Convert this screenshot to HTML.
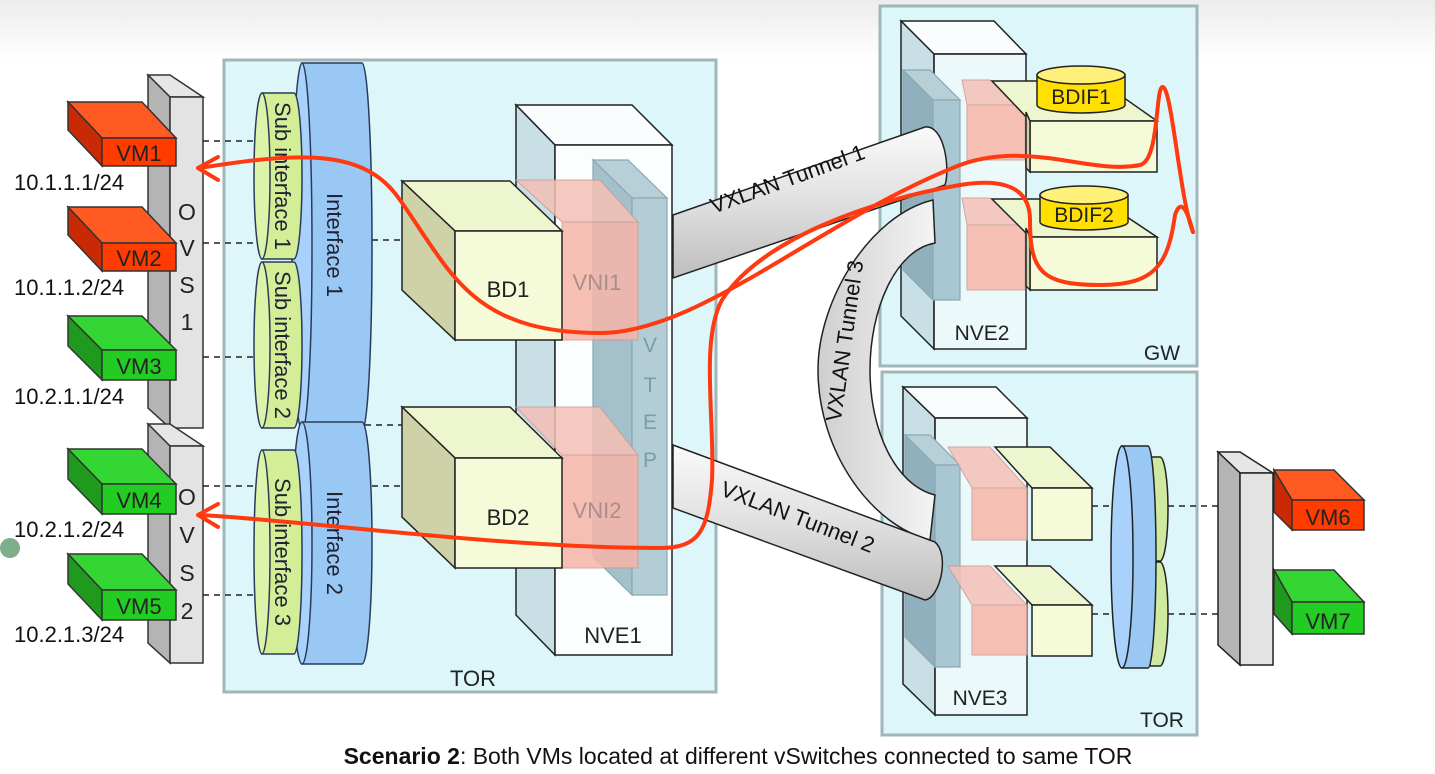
<!DOCTYPE html>
<html><head><meta charset="utf-8"><style>
html,body{margin:0;padding:0;background:#fff;}
svg{display:block;font-family:"Liberation Sans",sans-serif;}
</style></head><body>
<svg width="1435" height="774" viewBox="0 0 1435 774" xmlns="http://www.w3.org/2000/svg">
<defs>
<linearGradient id="top" x1="0" y1="0" x2="0" y2="1"><stop offset="0" stop-color="#ececec"/><stop offset="1" stop-color="#fff"/></linearGradient>
<linearGradient id="tube" x1="0" y1="0" x2="0" y2="1"><stop offset="0" stop-color="#fafafa"/><stop offset="0.5" stop-color="#e0e0e0"/><stop offset="1" stop-color="#bdbdbd"/></linearGradient>
<linearGradient id="tube3" x1="0" y1="0" x2="1" y2="0"><stop offset="0" stop-color="#cfcfcf"/><stop offset="1" stop-color="#f4f4f4"/></linearGradient>
</defs>
<rect x="0" y="0" width="1435" height="60" fill="url(#top)"/>

<rect x="224" y="60" width="492" height="632" fill="#dcf6fa" stroke="#9fb6bb" stroke-width="3"/>
<rect x="880" y="6" width="317" height="360" fill="#dcf6fa" stroke="#9fb6bb" stroke-width="3"/>
<rect x="882" y="372" width="315" height="363" fill="#dcf6fa" stroke="#9fb6bb" stroke-width="3"/>

<g stroke="#333" stroke-width="1.5">
<polygon points="148,75 170,75 203,97 170,97" fill="#e6e6e6"/>
<polygon points="148,75 170,97 170,428 148,408" fill="#b4b4b4"/>
<rect x="170" y="97" width="33" height="331" fill="#e3e3e3"/>
<polygon points="148,424 170,424 203,446 170,446" fill="#e6e6e6"/>
<polygon points="148,424 170,446 170,663 148,643" fill="#b4b4b4"/>
<rect x="170" y="446" width="33" height="217" fill="#e3e3e3"/>
</g>
<g font-size="23" fill="#222" text-anchor="middle">
<text x="187" y="220">O</text><text x="187" y="256">V</text><text x="187" y="293">S</text><text x="187" y="330">1</text>
<text x="187" y="505">O</text><text x="187" y="543">V</text><text x="187" y="581">S</text><text x="187" y="619">2</text>
</g>

<g stroke="#333" stroke-width="1.5">
<polygon points="68,102 142,102 176,138 102,138" fill="#ff5a22"/><polygon points="68,102 102,138 102,166 68,130" fill="#c92a05"/><rect x="102" y="138" width="74" height="28" fill="#ff3b00"/>
<polygon points="68,207 142,207 176,243 102,243" fill="#ff5a22"/><polygon points="68,207 102,243 102,271 68,235" fill="#c92a05"/><rect x="102" y="243" width="74" height="28" fill="#ff3b00"/>
<polygon points="68,316 142,316 176,350 102,350" fill="#33d633"/><polygon points="68,316 102,350 102,380 68,346" fill="#1f9a1f"/><rect x="102" y="350" width="74" height="30" fill="#22cc22"/>
<polygon points="68,449 142,449 176,484 102,484" fill="#33d633"/><polygon points="68,449 102,484 102,514 68,479" fill="#1f9a1f"/><rect x="102" y="484" width="74" height="30" fill="#22cc22"/>
<polygon points="68,554 142,554 176,590 102,590" fill="#33d633"/><polygon points="68,554 102,590 102,620 68,584" fill="#1f9a1f"/><rect x="102" y="590" width="74" height="30" fill="#22cc22"/>
<polygon points="1274,470 1334,470 1364,500 1292,500" fill="#ff5a22"/><polygon points="1274,470 1292,500 1292,530 1274,512" fill="#c92a05"/><rect x="1292" y="500" width="72" height="30" fill="#ff3b00"/>
<polygon points="1274,570 1334,570 1364,602 1292,602" fill="#33d633"/><polygon points="1274,570 1292,602 1292,634 1274,614" fill="#1f9a1f"/><rect x="1292" y="602" width="72" height="32" fill="#22cc22"/>
</g>
<g font-size="22" fill="#222" text-anchor="middle">
<text x="139" y="161">VM1</text><text x="139" y="266">VM2</text><text x="139" y="374">VM3</text><text x="139" y="508">VM4</text><text x="139" y="614">VM5</text>
<text x="1328" y="525">VM6</text><text x="1328" y="629">VM7</text>
</g>
<g font-size="22" fill="#111">
<text x="14" y="190">10.1.1.1/24</text><text x="14" y="295">10.1.1.2/24</text><text x="14" y="404">10.2.1.1/24</text><text x="14" y="537">10.2.1.2/24</text><text x="14" y="642">10.2.1.3/24</text>
</g>
<circle cx="10" cy="548" r="10" fill="#7fae8a"/>

<g stroke="#222" stroke-width="1.5" stroke-dasharray="6,5" fill="none">
<line x1="203" y1="141" x2="256" y2="141"/><line x1="203" y1="243" x2="256" y2="243"/><line x1="203" y1="357" x2="256" y2="357"/>
<line x1="203" y1="486" x2="256" y2="486"/><line x1="203" y1="595" x2="256" y2="595"/>
<line x1="372" y1="240" x2="420" y2="240"/>
<line x1="365" y1="425" x2="427" y2="425"/><line x1="427" y1="425" x2="427" y2="490"/><line x1="372" y1="486" x2="427" y2="486"/>
<line x1="1092" y1="506" x2="1112" y2="506"/><line x1="1168" y1="506" x2="1220" y2="506"/>
<line x1="1092" y1="614" x2="1112" y2="614"/><line x1="1168" y1="614" x2="1220" y2="614"/>
</g>

<g stroke="#2a3a5a" stroke-width="1.5">
<path d="M302,63 L362,63 A10,184 0 0 1 362,431 L302,431 Z" fill="#99c8f5"/>
<ellipse cx="302" cy="247" rx="10" ry="184" fill="#a8d2fb"/>
<path d="M302,422 L362,422 A10,121 0 0 1 362,664 L302,664 Z" fill="#99c8f5"/>
<ellipse cx="302" cy="543" rx="10" ry="121" fill="#a8d2fb"/>
<path d="M262,93 L294,93 A8,83 0 0 1 294,259 L262,259 Z" fill="#d4ee98"/>
<ellipse cx="262" cy="176" rx="8" ry="83" fill="#def3aa"/>
<path d="M262,262 L294,262 A8,83 0 0 1 294,428 L262,428 Z" fill="#d4ee98"/>
<ellipse cx="262" cy="345" rx="8" ry="83" fill="#def3aa"/>
<path d="M262,450 L294,450 A8,102 0 0 1 294,654 L262,654 Z" fill="#d4ee98"/>
<ellipse cx="262" cy="552" rx="8" ry="102" fill="#def3aa"/>
</g>
<g font-size="22" fill="#223" text-anchor="middle">
<text transform="translate(327,245) rotate(90)">Interface 1</text>
<text transform="translate(327,543) rotate(90)">Interface 2</text>
<text transform="translate(275,176) rotate(90)">Sub interface 1</text>
<text transform="translate(275,345) rotate(90)">Sub interface 2</text>
<text transform="translate(275,552) rotate(90)">Sub interface 3</text>
</g>

<g stroke="#222" stroke-width="1.5">
<polygon points="516,105 632,105 672,145 555,145" fill="#fafdfd"/>
<polygon points="516,105 555,145 555,655 516,615" fill="#c9dfe6"/>
<rect x="555" y="145" width="117" height="510" fill="#fbfefe"/>
</g>
<g stroke="#8aa7b2" stroke-width="1.2">
<polygon points="593,160 628,160 667,198 632,198" fill="#b7d0d8"/>
<polygon points="593,160 632,198 632,595 593,557" fill="#a4c0ca"/>
<rect x="632" y="198" width="35" height="397" fill="#b3cdd6"/>
</g>
<g font-size="21" fill="#7d9aa5" text-anchor="middle"><text x="650" y="352">V</text><text x="650" y="392">T</text><text x="650" y="429">E</text><text x="650" y="467">P</text></g>
<g stroke="#c89a94" stroke-width="1" opacity="0.85">
<polygon points="516,180 600,180 638,222 562,222" fill="#f4c0b6"/>
<rect x="562" y="222" width="76" height="118" fill="#f7b5a8"/>
<polygon points="516,407 600,407 638,455 562,455" fill="#f4c0b6"/>
<rect x="562" y="455" width="76" height="113" fill="#f7b5a8"/>
</g>
<g stroke="#222" stroke-width="1.5">
<polygon points="402,181 510,181 562,231 455,231" fill="#eef6cf"/>
<polygon points="402,181 455,231 455,340 402,290" fill="#cfd2a9"/>
<rect x="455" y="231" width="107" height="109" fill="#f5fad9"/>
<polygon points="402,407 510,407 562,458 455,458" fill="#eef6cf"/>
<polygon points="402,407 455,458 455,568 402,517" fill="#cfd2a9"/>
<rect x="455" y="458" width="107" height="110" fill="#f5fad9"/>
</g>
<g font-size="22" text-anchor="middle">
<text x="508" y="297" fill="#222">BD1</text><text x="508" y="525" fill="#222">BD2</text>
<text x="597" y="290" fill="#a88f8c">VNI1</text><text x="597" y="518" fill="#a88f8c">VNI2</text>
<text x="613" y="643" fill="#222">NVE1</text><text x="473" y="686" fill="#222">TOR</text>
</g>

<g stroke="#222" stroke-width="1.5">
<polygon points="901,21 994,21 1026,54 934,54" fill="#fafdfd"/>
<polygon points="901,21 934,54 934,349 901,316" fill="#c9dfe6"/>
<rect x="934" y="54" width="92" height="295" fill="#f5fbfc" fill-opacity="0.6"/>
</g>
<g stroke="#8aa7b2" stroke-width="1.2">
<polygon points="903,70 930,70 960,100 933,100" fill="#b7d0d8"/>
<polygon points="903,70 933,100 933,300 903,270" fill="#8fb0bc"/>
<rect x="933" y="100" width="27" height="200" fill="#a9c7d2"/>
</g>
<g stroke="#c89a94" stroke-width="1" opacity="0.85">
<polygon points="962,80 990,80 1025,105 967,105" fill="#f4c0b6"/><rect x="967" y="105" width="58" height="55" fill="#f7b5a8"/>
<polygon points="962,198 990,198 1025,225 967,225" fill="#f4c0b6"/><rect x="967" y="225" width="58" height="65" fill="#f7b5a8"/>
</g>
<g stroke="#222" stroke-width="1.5">
<polygon points="992,81 1100,81 1157,121 1030,121" fill="#eef6cf"/><rect x="1030" y="121" width="127" height="51" fill="#f5fad9"/><polygon points="1026,112 1030,121 1030,172 1026,168" fill="#cfd2a9"/>
<polygon points="992,199 1100,199 1157,237 1030,237" fill="#eef6cf"/><rect x="1030" y="237" width="127" height="53" fill="#f5fad9"/><polygon points="1026,228 1030,237 1030,290 1026,286" fill="#cfd2a9"/>
<path d="M1037,75 L1037,105 A44,8 0 0 0 1125,105 L1125,75 Z" fill="#ffe000"/><ellipse cx="1081" cy="75" rx="44" ry="9" fill="#fff07a"/>
<path d="M1040,195 L1040,222 A44,8 0 0 0 1128,222 L1128,195 Z" fill="#ffe000"/><ellipse cx="1084" cy="195" rx="44" ry="9" fill="#fff07a"/>
</g>
<g font-size="21" fill="#222" text-anchor="middle">
<text x="1081" y="104">BDIF1</text><text x="1084" y="222">BDIF2</text>
<text x="982" y="340">NVE2</text><text x="1162" y="360">GW</text>
</g>

<g stroke="#222" stroke-width="1.5">
<polygon points="903,387 996,387 1027,418 935,418" fill="#fafdfd"/>
<polygon points="903,387 935,418 935,715 903,684" fill="#c9dfe6"/>
<rect x="935" y="418" width="92" height="297" fill="#f5fbfc" fill-opacity="0.6"/>
</g>
<g stroke="#8aa7b2" stroke-width="1.2">
<polygon points="905,435 930,435 960,465 935,465" fill="#b7d0d8"/>
<polygon points="905,435 935,465 935,667 905,637" fill="#8fb0bc"/>
<rect x="935" y="465" width="25" height="202" fill="#a9c7d2"/>
</g>
<g stroke="#c89a94" stroke-width="1" opacity="0.85">
<polygon points="948,447 990,447 1027,488 972,488" fill="#f4c0b6"/><rect x="972" y="488" width="55" height="52" fill="#f7b5a8"/>
<polygon points="948,566 990,566 1027,605 972,605" fill="#f4c0b6"/><rect x="972" y="605" width="55" height="50" fill="#f7b5a8"/>
</g>
<g stroke="#222" stroke-width="1.5">
<polygon points="995,447 1050,447 1092,488 1032,488" fill="#eef6cf"/><rect x="1032" y="488" width="60" height="52" fill="#f5fad9"/>
<polygon points="995,566 1050,566 1092,605 1032,605" fill="#eef6cf"/><rect x="1032" y="605" width="60" height="51" fill="#f5fad9"/>
<path d="M1150,457 L1160,457 A8,52 0 0 1 1160,561 L1150,561 Z" fill="#cfeaa0"/>
<path d="M1150,562 L1160,562 A8,52 0 0 1 1160,666 L1150,666 Z" fill="#cfeaa0"/>
<path d="M1122,446 L1148,446 A8,111 0 0 1 1148,668 L1122,668 Z" fill="#99c8f5"/>
<ellipse cx="1122" cy="557" rx="11" ry="111" fill="#a8d2fb"/>
<polygon points="1218,452 1240,452 1273,473 1240,473" fill="#e6e6e6"/>
<polygon points="1218,452 1240,473 1240,665 1218,645" fill="#b4b4b4"/>
<rect x="1240" y="473" width="33" height="192" fill="#e3e3e3"/>
</g>
<g font-size="21" fill="#222" text-anchor="middle"><text x="980" y="705">NVE3</text><text x="1162" y="727">TOR</text></g>

<g stroke="#222" stroke-width="1.5">
<path d="M933,200 C870,215 818,300 818,370 C818,450 870,525 930,540 L935,495 C895,485 870,430 870,370 C870,310 895,250 935,243 Z" fill="url(#tube3)"/>
<path d="M673,215 L925,127 C945,125 950,170 945,185 L673,278 Z" fill="url(#tube)"/>
<path d="M673,445 L935,542 C950,555 940,598 925,600 L673,508 Z" fill="url(#tube)"/>
</g>
<g font-size="22" fill="#111" text-anchor="middle">
<text transform="translate(790,186) rotate(-20)">VXLAN Tunnel 1</text>
<text transform="translate(795,524) rotate(21)">VXLAN Tunnel 2</text>
<text transform="translate(852,342) rotate(-82)">VXLAN Tunnel 3</text>
</g>

<g stroke="#ff3a10" stroke-width="4" fill="none" stroke-linecap="round">
<path d="M200,168 C300,152 365,148 400,200 C450,270 470,333 600,333 C700,333 820,220 960,165 C1030,140 1090,175 1140,165 C1160,160 1155,85 1163,87 C1172,90 1180,200 1193,232"/>
<path d="M1193,232 C1186,205 1180,200 1175,215 C1168,265 1155,285 1100,285 C1040,285 1030,270 1030,220 C1030,180 990,180 960,185 C870,200 760,240 722,300 C700,340 715,420 712,480 C708,530 700,548 660,548 C500,548 300,520 200,515"/>
<polyline points="218,157 198,168 218,180" stroke-linejoin="round"/>
<polyline points="218,504 198,515 218,527" stroke-linejoin="round"/>
</g>

<text x="738" y="764" font-size="23" fill="#111" text-anchor="middle"><tspan font-weight="bold">Scenario 2</tspan>: Both VMs located at different vSwitches connected to same TOR</text>
</svg>
</body></html>
